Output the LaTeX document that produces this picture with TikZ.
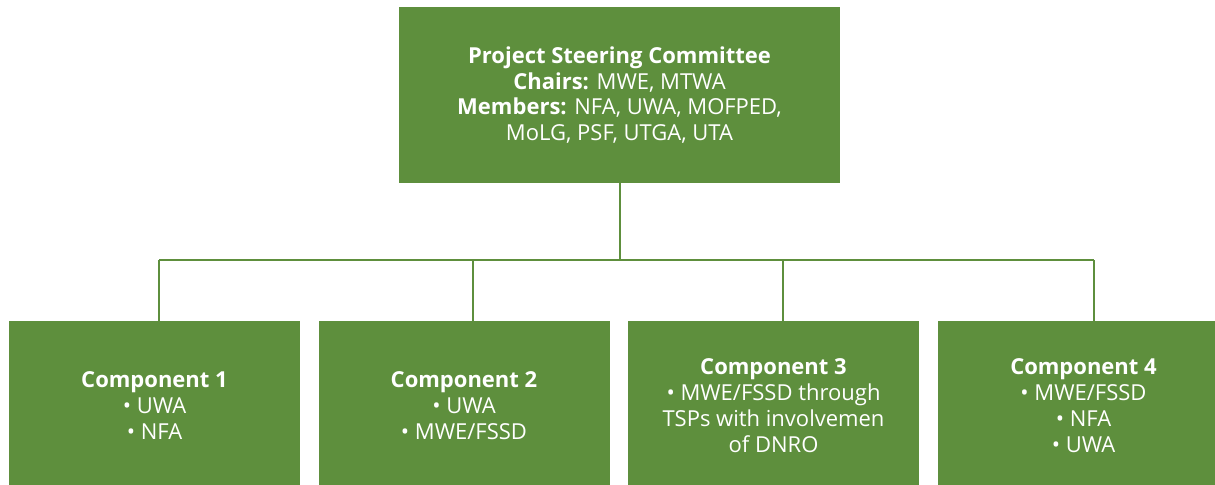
\documentclass[tikz,border=0pt]{standalone}
\usepackage{fontspec}
\setmainfont{Open Sans}
\definecolor{boxgreen}{HTML}{5E8F3D}
\tikzset{
  orgbox/.style={fill=boxgreen, text=white, align=center, inner sep=0pt,
    font=\fontsize{11}{12.9}\selectfont},
  compbox/.style={orgbox, minimum width=145.5pt, minimum height=84.5pt},
  link/.style={draw=boxgreen, line width=1pt}
}
\begin{document}
\begin{tikzpicture}[x=0.5pt,y=-0.5pt]
    \useasboundingbox (0,0) rectangle (1215,484);

    \node[orgbox, minimum width=220.5pt, minimum height=88pt] (psc) at (619.5,95)
      {\textbf{Project Steering Committee}\\
       \textbf{Chairs:} MWE, MTWA\\
       \textbf{Members:} NFA, UWA, MOFPED,\\
       MoLG, PSF, UTGA, UTA};

    \node[compbox] (c1) at (154.5,405.5) {\textbf{Component 1}\\\textbullet{} UWA\\\textbullet{} NFA};
    \node[compbox] (c2) at (464,405.5) {\textbf{Component 2}\\\textbullet{} UWA\\\textbullet{} MWE/FSSD};
    \node[compbox] (c3) at (773.5,405.5) {\textbf{Component 3}\\\textbullet{} MWE/FSSD through\\TSPs with involvemen\\of DNRO};
    \node[compbox] (c4) at (1083.5,405.5) {\textbf{Component 4}\\\textbullet{} MWE/FSSD\\\textbullet{} NFA\\\textbullet{} UWA};

    % bus line and stubs
    \foreach \i/\x in {1/159,2/473,3/783,4/1094}
    {
      \coordinate (j\i) at (\x,260);
      \draw[link] (j\i) -- (j\i |- c\i.north);
    };
    \draw[link] (j1) -- (j4);
    \draw[link] (psc.south) -- (psc.south |- j1);
  \end{tikzpicture}
\end{document}
